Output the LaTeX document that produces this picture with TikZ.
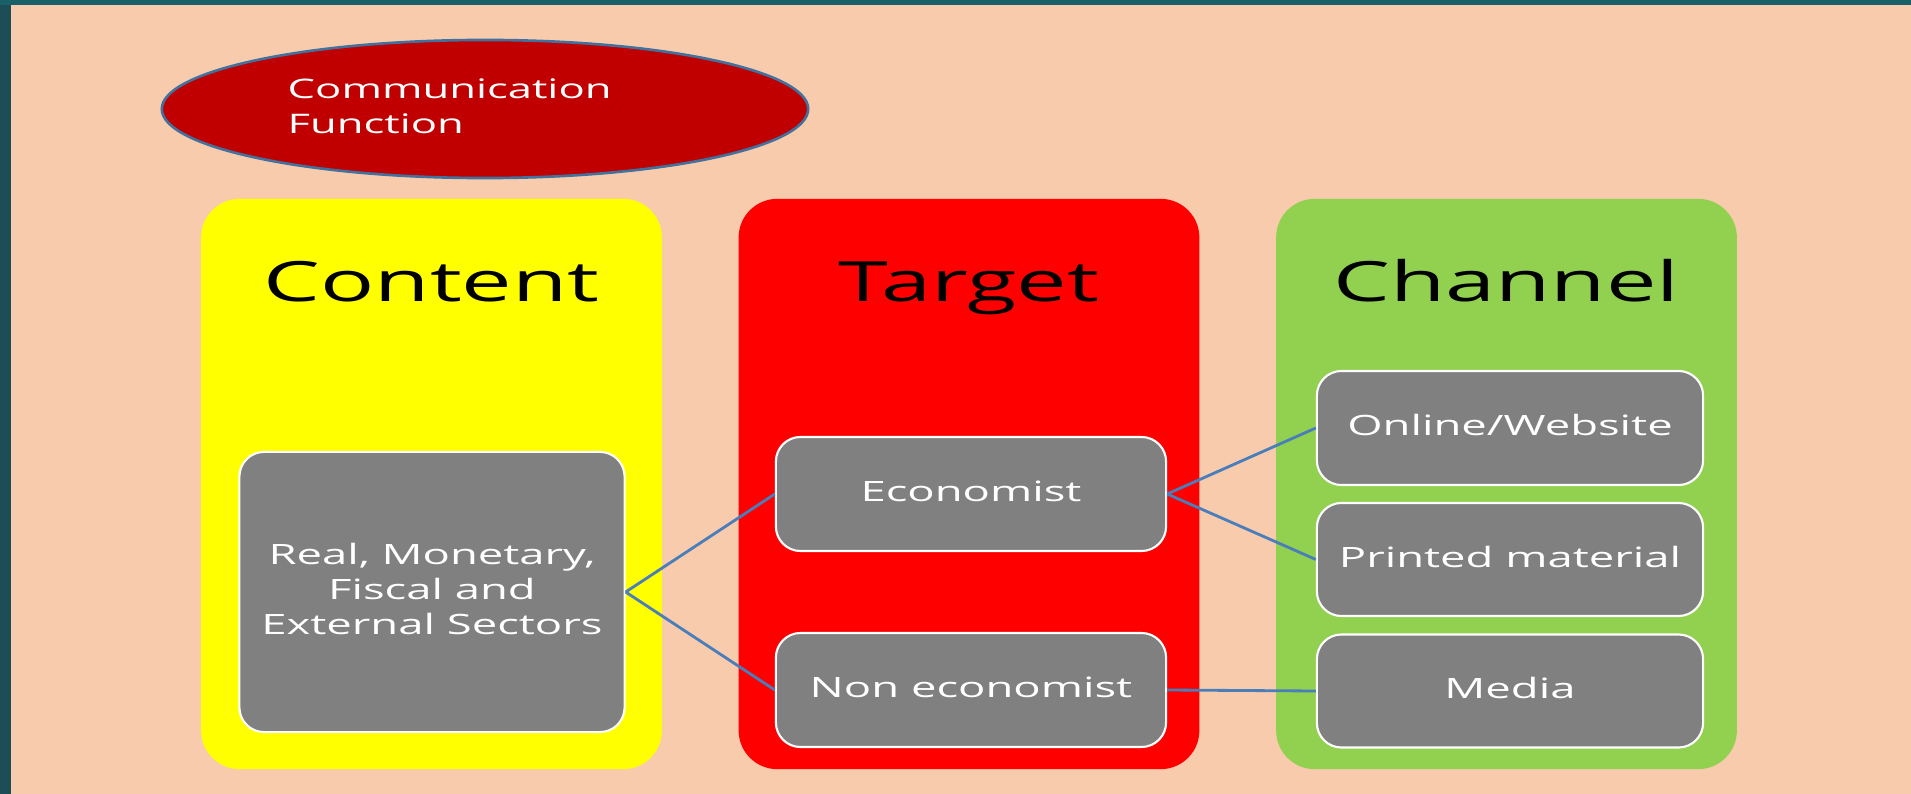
\documentclass[tikz,border=0pt]{standalone}
\usepackage{fontspec}
\setmainfont{Open Sans}[FakeStretch=1.62]
\usetikzlibrary{shapes.geometric}
\definecolor{peach}{HTML}{F8CBAD}
\definecolor{frameteal}{HTML}{1D4E58}
\definecolor{ellred}{HTML}{C00000}
\definecolor{ellblue}{HTML}{41719C}
\definecolor{ygold}{HTML}{FFFF00}
\definecolor{rred}{HTML}{FF0000}
\definecolor{ggreen}{HTML}{92D050}
\definecolor{boxgray}{HTML}{808080}
\definecolor{linkblue}{HTML}{4A7EBB}
\tikzset{
  column/.style={rounded corners=11pt, minimum width=4.605cm, minimum height=5.70cm, inner sep=0pt, draw=none},
  titletext/.style={font=\fontsize{15.8}{18}\selectfont, text=black, anchor=base, inner sep=0pt},
  graybox/.style={fill=boxgray, draw=white, line width=0.6pt, rounded corners=7pt, inner sep=0pt, text=white, align=center, text depth=1.6pt, font=\fontsize{7.97}{9.96}\selectfont},
  link/.style={draw=linkblue, line width=0.8pt}
}
\begin{document}
\begin{tikzpicture}[x=0.01cm, y=-0.01cm]
\useasboundingbox (0,0) rectangle (1911,794);
\fill[peach] (0,0) rectangle (1911,794);
\fill[frameteal] (0,0) rectangle (11,794);
\fill[frameteal!90!cyan] (0,0) rectangle (1911,5);

% ellipse
\node[ellipse, fill=ellred, draw=ellblue, line width=0.75pt, minimum width=6.46cm, minimum height=1.38cm, inner sep=0pt] (ell) at (485,109) {};
\node[anchor=west, align=left, text=white, inner sep=0pt, font=\fontsize{7.65}{9.96}\selectfont] (elltext) at (287,106) {Communication\\Function};

% columns
\node[column, fill=ygold] (colA) at (431.5,484) {};
\node[column, fill=rred] (colB) at (969,484) {};
\node[column, fill=ggreen] (colC) at (1506.5,484) {};

\node[titletext] (tA) at (431.5,302) {Content};
\node[titletext] (tB) at (969,302) {Target};
\node[titletext] (tC) at (1506.5,302) {Channel};

% gray boxes
\node[graybox, minimum width=3.85cm, minimum height=2.80cm] (sectors) at (432,592) {Real, Monetary,\\Fiscal and\\External Sectors};
\node[graybox, minimum width=3.90cm, minimum height=1.14cm] (econ) at (971,494) {Economist};
\node[graybox, minimum width=3.90cm, minimum height=1.14cm] (noneco) at (971,690) {Non economist};
\node[graybox, minimum width=3.86cm, minimum height=1.14cm] (online) at (1510,428) {Online/Website};
\node[graybox, minimum width=3.86cm, minimum height=1.13cm] (printed) at (1510,559.5) {Printed material};
\node[graybox, minimum width=3.86cm, minimum height=1.13cm] (media) at (1510,691) {Media};

% connectors
\draw[link] (sectors.east) -- (econ.west);
\draw[link] (sectors.east) -- (noneco.west);
\draw[link] (econ.east) -- (online.west);
\draw[link] (econ.east) -- (printed.west);
\draw[link] (noneco.east) -- (media.west);
\end{tikzpicture}
\end{document}
